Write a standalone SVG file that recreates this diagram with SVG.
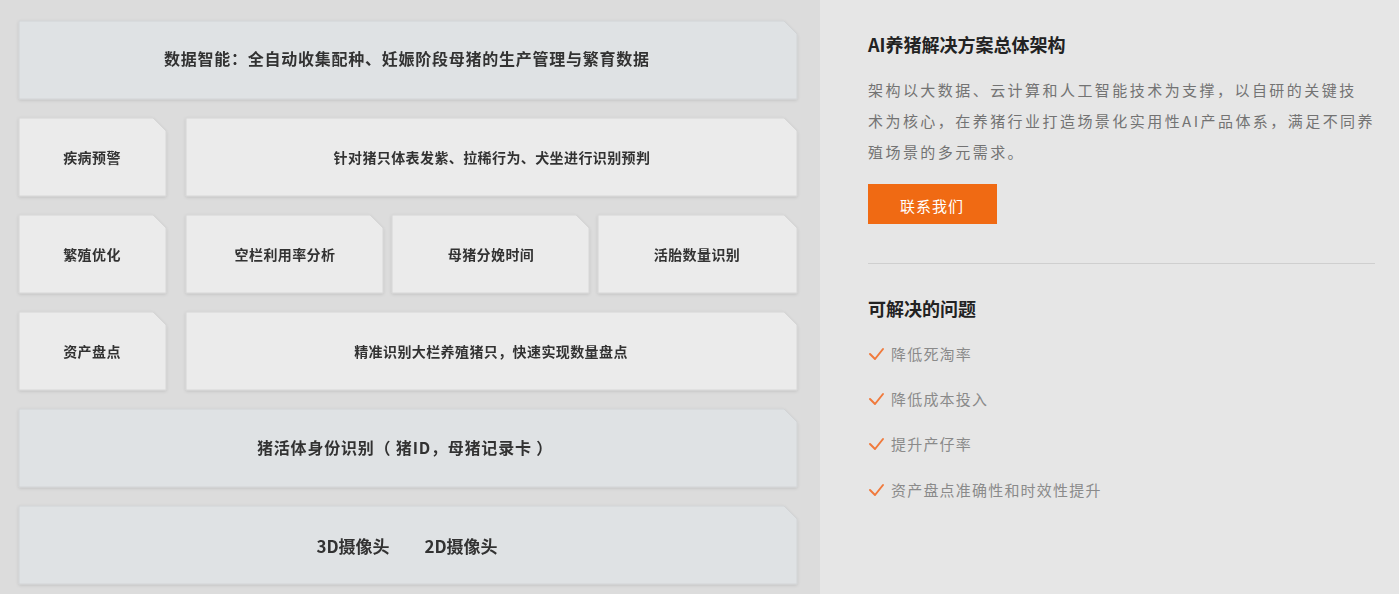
<svg xmlns="http://www.w3.org/2000/svg" width="1399" height="594" viewBox="0 0 1399 594">
<style>
.t{font-family:"Noto Sans CJK SC","Noto Sans",sans-serif;fill:#333;font-weight:700;text-anchor:middle;dominant-baseline:central}
.s14{font-size:14px;letter-spacing:0.4px}
.s16{font-size:16px;letter-spacing:0.75px}
.b{fill:#dfe2e4;stroke:#d2d4d6;stroke-width:1}
.w{fill:#ebebeb;stroke:#d6d6d6;stroke-width:1}
.h{font-family:"Noto Sans CJK SC","Noto Sans",sans-serif;font-size:18px;font-weight:700;fill:#222}
.p{font-family:"Noto Sans CJK SC","Noto Sans",sans-serif;font-size:15px;fill:#737373;letter-spacing:2.45px}
.c{font-family:"Noto Sans CJK SC","Noto Sans",sans-serif;font-size:15px;fill:#8a8a8a;letter-spacing:1.2px}
.ck{fill:none;stroke:#f07a3c;stroke-width:2;stroke-linecap:round;stroke-linejoin:round}
</style>
<defs>
<filter id="sh" x="-5%" y="-10%" width="110%" height="130%">
<feDropShadow dx="0" dy="1" stdDeviation="1.5" flood-color="#000" flood-opacity="0.12"/>
</filter>
</defs>
<rect x="0" y="0" width="820" height="594" fill="#dcdcdc"/>
<rect x="820" y="0" width="579" height="594" fill="#e6e6e6"/>

<g id="n-top" filter="url(#sh)"><path class="b" d="M19,21H784L797,34V99H19Z"/><text class="t s16" x="407" y="58">数据智能：全自动收集配种、妊娠阶段母猪的生产管理与繁育数据</text></g>

<g id="n-disease" filter="url(#sh)"><path class="w" d="M19,118H153L166,131V196H19Z"/><text class="t s14" x="92" y="157">疾病预警</text></g>
<g id="n-disease-desc" filter="url(#sh)"><path class="w" d="M186,118H784L797,131V196H186Z"/><text class="t s14" x="492" y="157">针对猪只体表发紫、拉稀行为、犬坐进行识别预判</text></g>

<g id="n-breed" filter="url(#sh)"><path class="w" d="M19,215H153L166,228V293H19Z"/><text class="t s14" x="92" y="254">繁殖优化</text></g>
<g id="n-pen" filter="url(#sh)"><path class="w" d="M186,215H370L383,228V293H186Z"/><text class="t s14" x="285" y="254">空栏利用率分析</text></g>
<g id="n-farrow" filter="url(#sh)"><path class="w" d="M392,215H576L589,228V293H392Z"/><text class="t s14" x="491" y="254">母猪分娩时间</text></g>
<g id="n-fetus" filter="url(#sh)"><path class="w" d="M598,215H784L797,228V293H598Z"/><text class="t s14" x="697" y="254">活胎数量识别</text></g>

<g id="n-asset" filter="url(#sh)"><path class="w" d="M19,312H153L166,325V390H19Z"/><text class="t s14" x="92" y="351">资产盘点</text></g>
<g id="n-asset-desc" filter="url(#sh)"><path class="w" d="M186,312H784L797,325V390H186Z"/><text class="t s14" x="491" y="351">精准识别大栏养殖猪只，快速实现数量盘点</text></g>

<g id="n-id" filter="url(#sh)"><path class="b" d="M19,409H784L797,422V487H19Z"/><text class="t" font-size="16" x="405" y="447" style="letter-spacing:0.8px" xml:space="preserve">猪活体身份识别（ 猪ID，母猪记录卡 ）</text></g>

<g id="n-camera" filter="url(#sh)"><path class="b" d="M19,506H784L797,519V584H19Z"/><text class="t" font-size="17" x="353" y="545">3D摄像头</text><text class="t" font-size="17" x="461" y="545">2D摄像头</text></g>

<g id="connectors"></g>

<g id="side">
<text class="h" x="868" y="52">AI养猪解决方案总体架构</text>
<text class="p" x="868" y="96">架构以大数据、云计算和人工智能技术为支撑，以自研的关键技</text>
<text class="p" x="868" y="127">术为核心，在养猪行业打造场景化实用性AI产品体系，满足不同养</text>
<text class="p" x="868" y="158">殖场景的多元需求。</text>
<g id="btn"><rect x="868" y="184" width="129" height="40" fill="#f06a13"/><text x="932" y="205" font-family="Noto Sans CJK SC, Noto Sans, sans-serif" font-size="15" fill="#fff" text-anchor="middle" dominant-baseline="central" letter-spacing="1">联系我们</text></g>
<line x1="868" y1="263.5" x2="1375" y2="263.5" stroke="#cfcfcf" stroke-width="1"/>
<text class="h" x="868" y="316">可解决的问题</text>
<path class="ck" d="M870,354L875,359L883,349"/>
<text class="c" x="891" y="360">降低死淘率</text>
<path class="ck" d="M870,399L875,404L883,394"/>
<text class="c" x="891" y="405">降低成本投入</text>
<path class="ck" d="M870,444L875,449L883,439"/>
<text class="c" x="891" y="450">提升产仔率</text>
<path class="ck" d="M870,490L875,495L883,485"/>
<text class="c" x="891" y="496">资产盘点准确性和时效性提升</text>
</g>
</svg>
